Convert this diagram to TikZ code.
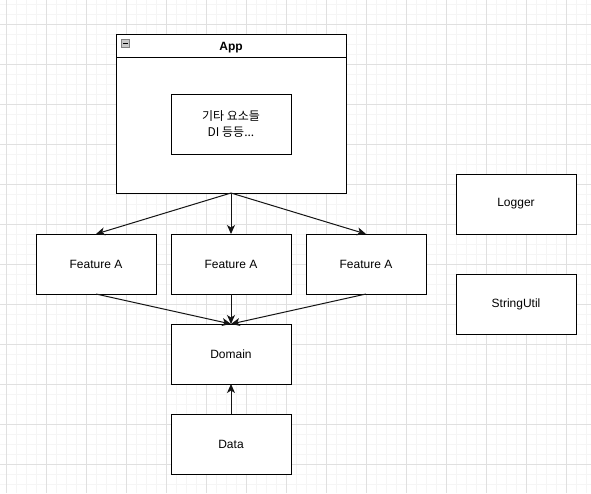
\documentclass[tikz,border=0pt]{standalone}
\usepackage{fontspec}
\setmainfont{Liberation Sans}
\newfontfamily\krfont{Noto Sans CJK KR}
\usepackage{tikz}
\usetikzlibrary{arrows.meta, positioning, calc}
\definecolor{mydark}{RGB}{20,20,20}
\definecolor{gridminor}{RGB}{245,245,245}
\definecolor{gridmajor}{RGB}{224,224,224}
\definecolor{icongray}{RGB}{200,200,200}
\tikzset{
  box/.style={rectangle, draw=black, fill=white, minimum width=120pt,
    minimum height=60pt, inner sep=0pt, outer sep=0pt, line width=1pt,
    font=\fontsize{12}{14}\selectfont},
  arrow/.style={-{Stealth[length=9pt, width=8pt, inset=2.5pt]}, line width=1pt, color=mydark}
}
\begin{document}
\begin{tikzpicture}[x=1pt, y=-1pt, node distance=30pt and 15pt,
  container/.style={rectangle, draw=black, fill=white, minimum width=230pt,
    minimum height=159pt, inner sep=0pt, outer sep=0pt, line width=1pt}]

  \useasboundingbox (0,0) rectangle (591,493);
  \fill[white] (0,0) rectangle (591,493);

  % Grid
  \foreach \x in {6.5,16.5,...,586.5}
    \draw[gridminor, line width=1pt] (\x,0) -- (\x,493);
  \foreach \y in {4.5,14.5,...,484.5}
    \draw[gridminor, line width=1pt] (0,\y) -- (591,\y);
  \foreach \x in {6.5,46.5,...,566.5}
    \draw[gridmajor, line width=1pt] (\x,0) -- (\x,493);
  \foreach \y in {24.5,64.5,...,464.5}
    \draw[gridmajor, line width=1pt] (0,\y) -- (591,\y);

  % App container
  \node[container, anchor=north west] (app) at (116,34) {};
  \draw[line width=1pt] ($(app.north west)+(0,23)$) coordinate (hdrl)
    -- ($(app.north east)+(0,23)$) coordinate (hdrr);
  \node[font=\bfseries\fontsize{12}{14}\selectfont] (apptitle) at ($(app.north)+(0,13.5)$) {App};
  \node[rectangle, draw=gray, fill=icongray, minimum size=8pt, inner sep=0pt,
    anchor=north west, line width=0.8pt] (icon) at (121,39) {};
  \draw[line width=1.2pt] ($(icon.west)+(2,0)$) -- ($(icon.east)+(-2,0)$);
  \node[box, anchor=north west, align=center, font=\krfont\fontsize{12}{16}\selectfont]
    (etc) at (171,94) {기타 요소들\\DI 등등...};

  % Features
  \node[box, anchor=north west] (fmid) at (171,234) {Feature A};
  \node[box, left=15pt of fmid] (fleft) {Feature A};
  \node[box, right=15pt of fmid] (fright) {Feature A};

  % Domain and Data
  \node[box, below=of fmid] (domain) {Domain};
  \node[box, below=of domain] (data) {Data};

  % Utilities
  \node[box, anchor=north west] (logger) at (456,174) {Logger};
  \node[box, below=40pt of logger] (strutil) {StringUtil};

  % Arrows
  \draw[arrow] (app.south) -- (fleft.north);
  \draw[arrow] (app.south) -- (fmid.north);
  \draw[arrow] (app.south) -- (fright.north);
  \draw[arrow] (fleft.south) -- (domain.north);
  \draw[arrow] (fmid.south) -- (domain.north);
  \draw[arrow] (fright.south) -- (domain.north);
  \draw[arrow] (data.north) -- (domain.south);
\end{tikzpicture}
\end{document}
